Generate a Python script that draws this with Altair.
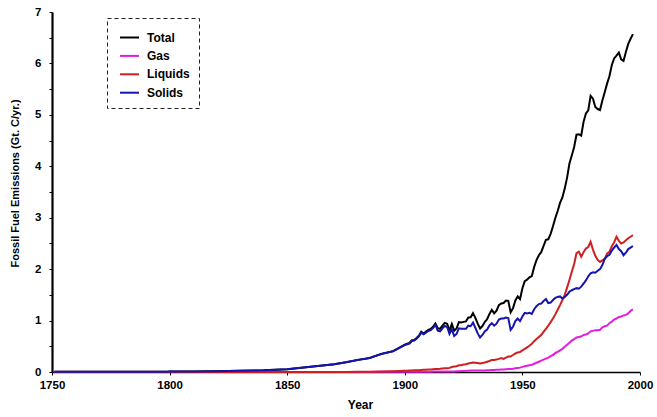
import altair as alt
import pandas as pd

# Global fossil-fuel carbon emissions, Gt C per year
series_names = ["Total", "Gas", "Liquids", "Solids"]
series_colors = ["#000000", "#e01ee0", "#cf1f1f", "#1414b0"]

early_years = [1751, 1760, 1770, 1780, 1790, 1799, 1800, 1810, 1820, 1830, 1840,
               1850, 1855, 1860, 1865, 1870, 1875, 1880, 1885, 1890, 1895]
total_early = [0.003, 0.003, 0.003, 0.004, 0.005, 0.007, 0.008, 0.010, 0.014, 0.024, 0.033,
               0.054, 0.080, 0.100, 0.125, 0.150, 0.190, 0.236, 0.272, 0.352, 0.405]
solids_early = [0.003, 0.003, 0.003, 0.004, 0.005, 0.007, 0.008, 0.010, 0.014, 0.024, 0.033,
                0.054, 0.080, 0.100, 0.125, 0.150, 0.190, 0.235, 0.270, 0.350, 0.402]
liquids_early = [0, 0, 0, 0, 0, 0, 0, 0, 0, 0, 0,
                 0, 0, 0, 0, 0.001, 0.002, 0.003, 0.005, 0.009, 0.014]
gas_early = [0, 0, 0, 0, 0, 0, 0, 0, 0, 0, 0,
             0, 0, 0, 0, 0, 0, 0, 0.001, 0.003, 0.003]

annual_years = list(range(1900, 1998))
total_annual = [
    0.534, 0.552, 0.566, 0.617, 0.624, 0.663, 0.707, 0.784, 0.750, 0.785,
    0.819, 0.836, 0.879, 0.943, 0.850, 0.838, 0.901, 0.955, 0.936, 0.806,
    0.932, 0.803, 0.845, 0.970, 0.963, 0.975, 0.983, 1.062, 1.065, 1.145,
    1.053, 0.940, 0.847, 0.893, 0.973, 1.027, 1.130, 1.209, 1.142, 1.192,
    1.299, 1.334, 1.342, 1.391, 1.383, 1.160, 1.238, 1.392, 1.469, 1.419,
    1.630, 1.767, 1.795, 1.841, 1.865, 2.042, 2.177, 2.270, 2.330, 2.454,
    2.569, 2.580, 2.686, 2.833, 2.995, 3.130, 3.288, 3.393, 3.566, 3.780,
    4.053, 4.208, 4.376, 4.614, 4.623, 4.596, 4.864, 5.026, 5.087, 5.369,
    5.315, 5.152, 5.113, 5.094, 5.280, 5.439, 5.607, 5.752, 5.965, 6.097,
    6.150, 6.210, 6.080, 6.050, 6.220, 6.380, 6.480, 6.570,
]
solids_annual = [
    0.522, 0.540, 0.553, 0.603, 0.610, 0.648, 0.691, 0.766, 0.732, 0.766,
    0.798, 0.813, 0.853, 0.915, 0.805, 0.790, 0.850, 0.895, 0.875, 0.740,
    0.830, 0.700, 0.740, 0.850, 0.840, 0.840, 0.840, 0.900, 0.890, 0.960,
    0.860, 0.750, 0.670, 0.720, 0.790, 0.825, 0.905, 0.950, 0.900, 0.940,
    1.020, 1.040, 1.040, 1.060, 1.050, 0.820, 0.880, 0.990, 1.040, 0.990,
    1.08, 1.15, 1.14, 1.15, 1.13, 1.22, 1.28, 1.32, 1.33, 1.38,
    1.42, 1.34, 1.35, 1.40, 1.44, 1.46, 1.47, 1.43, 1.46, 1.50,
    1.56, 1.59, 1.61, 1.63, 1.62, 1.66, 1.72, 1.78, 1.86, 1.92,
    1.94, 1.93, 1.97, 2.00, 2.08, 2.20, 2.25, 2.28, 2.36, 2.42,
    2.47, 2.39, 2.35, 2.27, 2.32, 2.39, 2.42, 2.45,
]
liquids_annual = [
    0.023, 0.025, 0.027, 0.030, 0.032, 0.034, 0.035, 0.040, 0.042, 0.044,
    0.047, 0.050, 0.054, 0.057, 0.058, 0.062, 0.068, 0.075, 0.075, 0.080,
    0.098, 0.105, 0.113, 0.130, 0.133, 0.145, 0.150, 0.165, 0.175, 0.185,
    0.180, 0.175, 0.165, 0.175, 0.185, 0.200, 0.215, 0.235, 0.235, 0.245,
    0.255, 0.270, 0.255, 0.280, 0.300, 0.300, 0.330, 0.360, 0.380, 0.390,
    0.42, 0.45, 0.48, 0.51, 0.55, 0.60, 0.64, 0.68, 0.72, 0.78,
    0.84, 0.90, 0.97, 1.04, 1.12, 1.21, 1.30, 1.40, 1.50, 1.64,
    1.79, 1.95, 2.10, 2.31, 2.34, 2.24, 2.33, 2.40, 2.43, 2.53,
    2.38, 2.26, 2.18, 2.14, 2.17, 2.20, 2.30, 2.34, 2.44, 2.52,
    2.63, 2.55, 2.50, 2.52, 2.56, 2.60, 2.63, 2.66,
]
gas_annual = [
    0.003, 0.003, 0.004, 0.004, 0.004, 0.005, 0.005, 0.006, 0.006, 0.006,
    0.007, 0.007, 0.008, 0.008, 0.008, 0.009, 0.009, 0.010, 0.010, 0.010,
    0.012, 0.012, 0.014, 0.016, 0.018, 0.020, 0.022, 0.025, 0.027, 0.030,
    0.030, 0.028, 0.027, 0.028, 0.031, 0.033, 0.036, 0.040, 0.040, 0.042,
    0.045, 0.048, 0.050, 0.055, 0.058, 0.060, 0.065, 0.072, 0.080, 0.085,
    0.10, 0.11, 0.12, 0.13, 0.14, 0.16, 0.18, 0.20, 0.22, 0.24,
    0.26, 0.28, 0.31, 0.33, 0.37, 0.39, 0.42, 0.45, 0.49, 0.53,
    0.57, 0.61, 0.64, 0.67, 0.68, 0.69, 0.72, 0.73, 0.75, 0.79,
    0.80, 0.81, 0.81, 0.82, 0.87, 0.89, 0.90, 0.95, 0.98, 1.02,
    1.04, 1.07, 1.08, 1.10, 1.11, 1.14, 1.19, 1.22,
]

x_ticks = [1750, 1800, 1850, 1900, 1950, 2000]
y_ticks = [i / 2 for i in range(0, 15)]

years = early_years + annual_years
series_values = {
    "Total": total_early + total_annual,
    "Gas": gas_early + gas_annual,
    "Liquids": liquids_early + liquids_annual,
    "Solids": solids_early + solids_annual,
}

rows = []
for name in series_names:
    for yr, v in zip(years, series_values[name]):
        rows.append({"year": yr, "value": v, "series": name})
df = pd.DataFrame(rows)

FONT = "Liberation Sans"

chart = (
    alt.Chart(df)
    .mark_line(strokeWidth=2)
    .encode(
        x=alt.X(
            "year:Q",
            scale=alt.Scale(domain=[1750, 2000], nice=False, zero=False),
            axis=alt.Axis(
                values=x_ticks,
                format="d",
                title="Year",
                grid=False,
                domainColor="#000000",
                domainWidth=1.6,
                tickColor="#000000",
                tickSize=3,
                labelFontSize=11.5,
                labelFontWeight="bold",
                labelColor="#000000",
                labelPadding=4,
                labelFlush=False,
                titleFontSize=12,
                titleFontWeight="bold",
                titleColor="#000000",
                titlePadding=9,
                titleX=308,
            ),
        ),
        y=alt.Y(
            "value:Q",
            scale=alt.Scale(domain=[0, 7], nice=False),
            axis=alt.Axis(
                values=y_ticks,
                labelExpr="datum.value % 1 === 0 ? format(datum.value, 'd') : ''",
                title="Fossil Fuel Emissions (Gt. C/yr.)",
                grid=False,
                domainColor="#000000",
                domainWidth=2.2,
                tickColor="#000000",
                tickSize=3,
                labelFontSize=11.5,
                labelFontWeight="bold",
                labelColor="#000000",
                labelPadding=8,
                titleFontSize=11,
                titleFontWeight="bold",
                titleColor="#000000",
                titlePadding=14,
                titleY=171,
            ),
        ),
        color=alt.Color(
            "series:N",
            scale=alt.Scale(domain=series_names, range=series_colors),
            legend=alt.Legend(
                title=None,
                orient="none",
                legendX=55,
                legendY=6,
                symbolType="stroke",
                symbolSize=361,
                symbolStrokeWidth=2,
                symbolOffset=3,
                labelFontSize=12,
                labelFontWeight="bold",
                labelColor="#000000",
                labelOffset=7,
                rowPadding=1.4,
                padding=9,
                strokeColor="#222222",
                fillColor="#ffffff",
            ),
        ),
    )
    .properties(
        width=588,
        height=360,
        autosize=alt.AutoSizeParams(type="none"),
        padding={"left": 52, "top": 12, "right": 17, "bottom": 45},
        background="#ffffff",
    )
    .configure(font=FONT)
    .configure_legend(strokeDash=[4, 3], strokeWidth=1)
    .configure_view(stroke=None)
)

chart.save("out.html", embed_options={"renderer": "svg", "actions": False})
